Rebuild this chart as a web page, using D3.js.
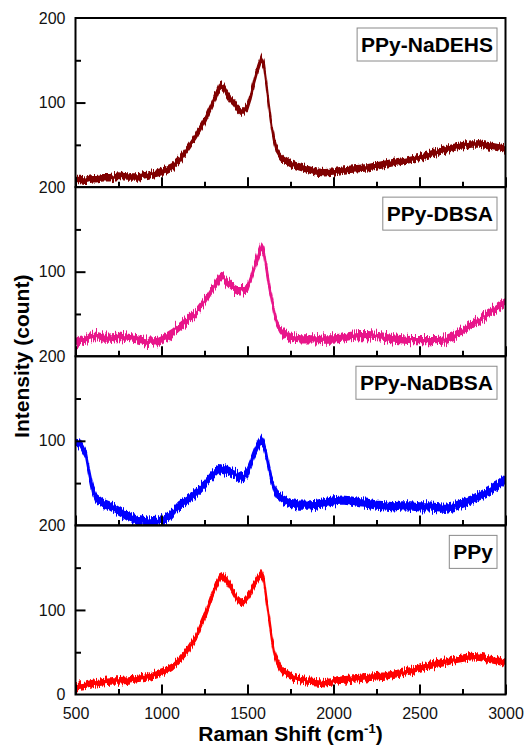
<!DOCTYPE html>
<html>
<head>
<meta charset="utf-8">
<script src="https://cdn.jsdelivr.net/npm/d3@7"></script>
<style>
  body { margin: 0; background: #fff; }
  text { font-family: "Liberation Sans", Arial, Helvetica, sans-serif; }
</style>
</head>
<body>
<svg id="chart" width="528" height="751"></svg>
<script>
// Raman shift grid (cm^-1) shared by every spectrum
const ramanShift = [500, 530, 560, 580, 600, 620, 660, 700, 750, 800, 860, 920, 980, 1020, 1060, 1100, 1150, 1200, 1250, 1290,
  1320, 1340, 1360, 1380, 1400, 1420, 1440, 1460, 1480, 1500, 1520, 1540, 1560, 1580, 1595, 1610, 1625, 1640, 1655, 1670,
  1690, 1710, 1750, 1800, 1850, 1900, 1950, 2000, 2050, 2100, 2150, 2200, 2250, 2300, 2350, 2400, 2450, 2500, 2550, 2600,
  2650, 2700, 2750, 2800, 2850, 2900, 2950, 3000];

// Intensity (count) for each sample, top panel to bottom panel
const ppyNaDEHS = [9, 9, 8, 9, 10, 10, 11, 11, 13, 12, 12, 14, 17, 20, 24, 31, 45, 60, 78, 96,
  110, 120, 118, 110, 104, 100, 94, 90, 90, 95, 108, 125, 140, 152, 145, 122, 95, 72, 55, 44,
  37, 33, 28, 24, 21, 18, 17, 18, 20, 21, 22, 23, 25, 27, 29, 31, 33, 35, 38, 41,
  44, 47, 49, 51, 51, 49, 47, 45];

const ppyDBSA = [20, 18, 20, 23, 24, 24, 22, 22, 23, 22, 20, 17, 18, 22, 27, 34, 42, 52, 65, 78,
  88, 94, 93, 88, 84, 80, 78, 78, 78, 80, 92, 105, 118, 130, 124, 104, 85, 68, 52, 40,
  32, 27, 22, 20, 20, 20, 21, 21, 22, 24, 25, 25, 24, 23, 21, 20, 19, 19, 19, 19,
  20, 24, 30, 37, 43, 50, 57, 64];

const ppyNaDBSA = [97, 96, 84, 62, 42, 32, 26, 23, 17, 11, 6, 4, 5, 8, 14, 23, 30, 38, 48, 58,
  64, 67, 66, 65, 63, 61, 59, 57, 58, 64, 74, 85, 94, 101, 96, 84, 68, 54, 44, 38,
  33, 30, 26, 24, 24, 25, 27, 29, 30, 29, 27, 26, 24, 23, 22, 23, 23, 22, 22, 21,
  20, 22, 26, 30, 35, 40, 46, 55];

const ppyPure = [9, 10, 11, 12, 13, 14, 15, 16, 16, 17, 19, 21, 25, 28, 32, 40, 52, 68, 92, 115,
  130, 138, 140, 135, 128, 120, 113, 109, 110, 115, 122, 130, 137, 143, 135, 112, 90, 68, 50, 40,
  32, 27, 22, 18, 16, 15, 14, 15, 17, 18, 19, 20, 21, 22, 24, 26, 28, 31, 34, 36,
  38, 41, 43, 45, 44, 42, 40, 37];

const sampleNames = ["PPy-NaDEHS", "PPy-DBSA", "PPy-NaDBSA", "PPy"];
const sampleSeries = [ppyNaDEHS, ppyDBSA, ppyNaDBSA, ppyPure];
// typical half-spread of the detector noise around each spectrum (count)
const noiseSpread = [3.5, 4, 4.5, 3.5];

const xMajorTicks = [500, 1000, 1500, 2000, 2500, 3000];
const xMinorTicks = [750, 1250, 1750, 2250, 2750];
const yMajorTicks = [100];
const yMinorTicks = [50, 150];
const yLabelTicks = [100, 200];
const yLabelTicksBottom = [0, 100, 200];

// ---- layout ----
const svg = d3.select("#chart");
const plotLeft = 75.5, plotRight = 505.5, plotTop = 18, plotBottom = 694.5;
const panelCount = sampleSeries.length;
const panelH = (plotBottom - plotTop) / panelCount;
const colors = ["#800000", "#e8148a", "#0000ff", "#ff0000"];
const grainScale = [9, 15, 10, 9];

const x = d3.scaleLinear().domain([500, 3000]).range([plotLeft, plotRight]);

// fine vertical jitter so the traces read as raw detector signal
const defs = svg.append("defs");
grainScale.forEach((s, i) => {
  const grain = defs.append("filter").attr("id", "grain" + i)
    .attr("filterUnits", "userSpaceOnUse")
    .attr("x", 0).attr("y", 0).attr("width", 528).attr("height", 751);
  grain.append("feTurbulence").attr("type", "fractalNoise")
    .attr("baseFrequency", "0.9 0.03").attr("numOctaves", 2).attr("seed", 7 + i).attr("result", "turb");
  grain.append("feColorMatrix").attr("in", "turb").attr("type", "matrix")
    .attr("values", "0 0 0 0 0.5  0 1 0 0 0  0 0 1 0 0  0 0 0 0 1").attr("result", "map");
  grain.append("feDisplacementMap").attr("in", "SourceGraphic").attr("in2", "map")
    .attr("scale", s).attr("xChannelSelector", "R").attr("yChannelSelector", "G");
});

sampleSeries.forEach((series, i) => {
  const top = plotTop + i * panelH;
  const bottom = top + panelH;
  const y = d3.scaleLinear().domain([0, 200]).range([bottom, top]);
  const g = svg.append("g").attr("class", "panel");

  const clipId = "clip" + i;
  defs.append("clipPath").attr("id", clipId)
    .append("rect").attr("x", plotLeft).attr("y", top).attr("width", plotRight - plotLeft).attr("height", panelH);

  const pts = ramanShift.map((w, k) => ({ w, v: series[k] }));
  const spread = noiseSpread[i];

  const band = d3.area()
    .x(d => x(d.w))
    .y0(d => y(d.v - spread))
    .y1(d => y(d.v + spread));

  const data = g.append("g").attr("clip-path", `url(#${clipId})`);
  data.append("path").datum(pts).attr("d", band)
    .attr("fill", colors[i]).attr("stroke", colors[i]).attr("stroke-width", 1.6)
    .attr("filter", `url(#grain${i})`);

  // x ticks (inward, no labels except bottom panel)
  const xMaj = d3.axisBottom(x).tickValues(xMajorTicks).tickSize(-10).tickPadding(13)
    .tickFormat(i === panelCount - 1 ? d3.format("d") : () => "");
  const xMin = d3.axisBottom(x).tickValues(xMinorTicks).tickSize(-5.5).tickFormat(() => "");
  g.append("g").attr("transform", `translate(0,${bottom})`).call(xMaj).call(a => a.select(".domain").remove());
  g.append("g").attr("transform", `translate(0,${bottom})`).call(xMin).call(a => a.select(".domain").remove());

  // y ticks (inward) and labels
  const yMaj = d3.axisLeft(y).tickValues(yMajorTicks).tickSize(-10).tickFormat(() => "");
  const yMin = d3.axisLeft(y).tickValues(yMinorTicks).tickSize(-5.5).tickFormat(() => "");
  const yLab = d3.axisLeft(y).tickValues(i === panelCount - 1 ? yLabelTicksBottom : yLabelTicks)
    .tickSize(0).tickPadding(10).tickFormat(d3.format("d"));
  g.append("g").attr("transform", `translate(${plotLeft},0)`).call(yMaj).call(a => a.select(".domain").remove());
  g.append("g").attr("transform", `translate(${plotLeft},0)`).call(yMin).call(a => a.select(".domain").remove());
  g.append("g").attr("transform", `translate(${plotLeft},0)`).call(yLab).call(a => a.select(".domain").remove());

  // panel frame
  g.append("rect").attr("x", plotLeft).attr("y", top).attr("width", plotRight - plotLeft).attr("height", panelH)
    .attr("fill", "none").attr("stroke", "#000").attr("stroke-width", 2);

  // sample label box
  const lab = g.append("g");
  const t = lab.append("text").text(sampleNames[i])
    .attr("font-size", 21).attr("font-weight", "bold").attr("fill", "#000");
  const tw = t.node().getComputedTextLength();
  const pad = 4, boxH = 33, boxRight = 497, boxTop = top + 10;
  lab.insert("rect", "text")
    .attr("x", boxRight - tw - 2 * pad).attr("y", boxTop).attr("width", tw + 2 * pad).attr("height", boxH)
    .attr("fill", "#fff").attr("stroke", "#8a8a8a").attr("stroke-width", 1);
  t.attr("x", boxRight - tw - pad).attr("y", boxTop + boxH / 2 + 7.5);
});

svg.selectAll(".tick line").attr("stroke", "#000").attr("stroke-width", 2);
svg.selectAll(".tick text").attr("font-size", 16).attr("fill", "#111")
  .attr("font-family", "'Liberation Sans', Arial, sans-serif");

// axis titles
const xt = svg.append("text").attr("x", (plotLeft + plotRight) / 2).attr("y", 741)
  .attr("text-anchor", "middle").attr("font-size", 21).attr("font-weight", "bold");
xt.append("tspan").text("Raman Shift (cm");
xt.append("tspan").text("-1").attr("font-size", 13).attr("dy", -8);
xt.append("tspan").text(")").attr("dy", 8);

svg.append("text")
  .attr("transform", `translate(29,${(plotTop + plotBottom) / 2}) rotate(-90)`)
  .attr("text-anchor", "middle").attr("font-size", 21).attr("font-weight", "bold")
  .text("Intensity (count)");
</script>
</body>
</html>
